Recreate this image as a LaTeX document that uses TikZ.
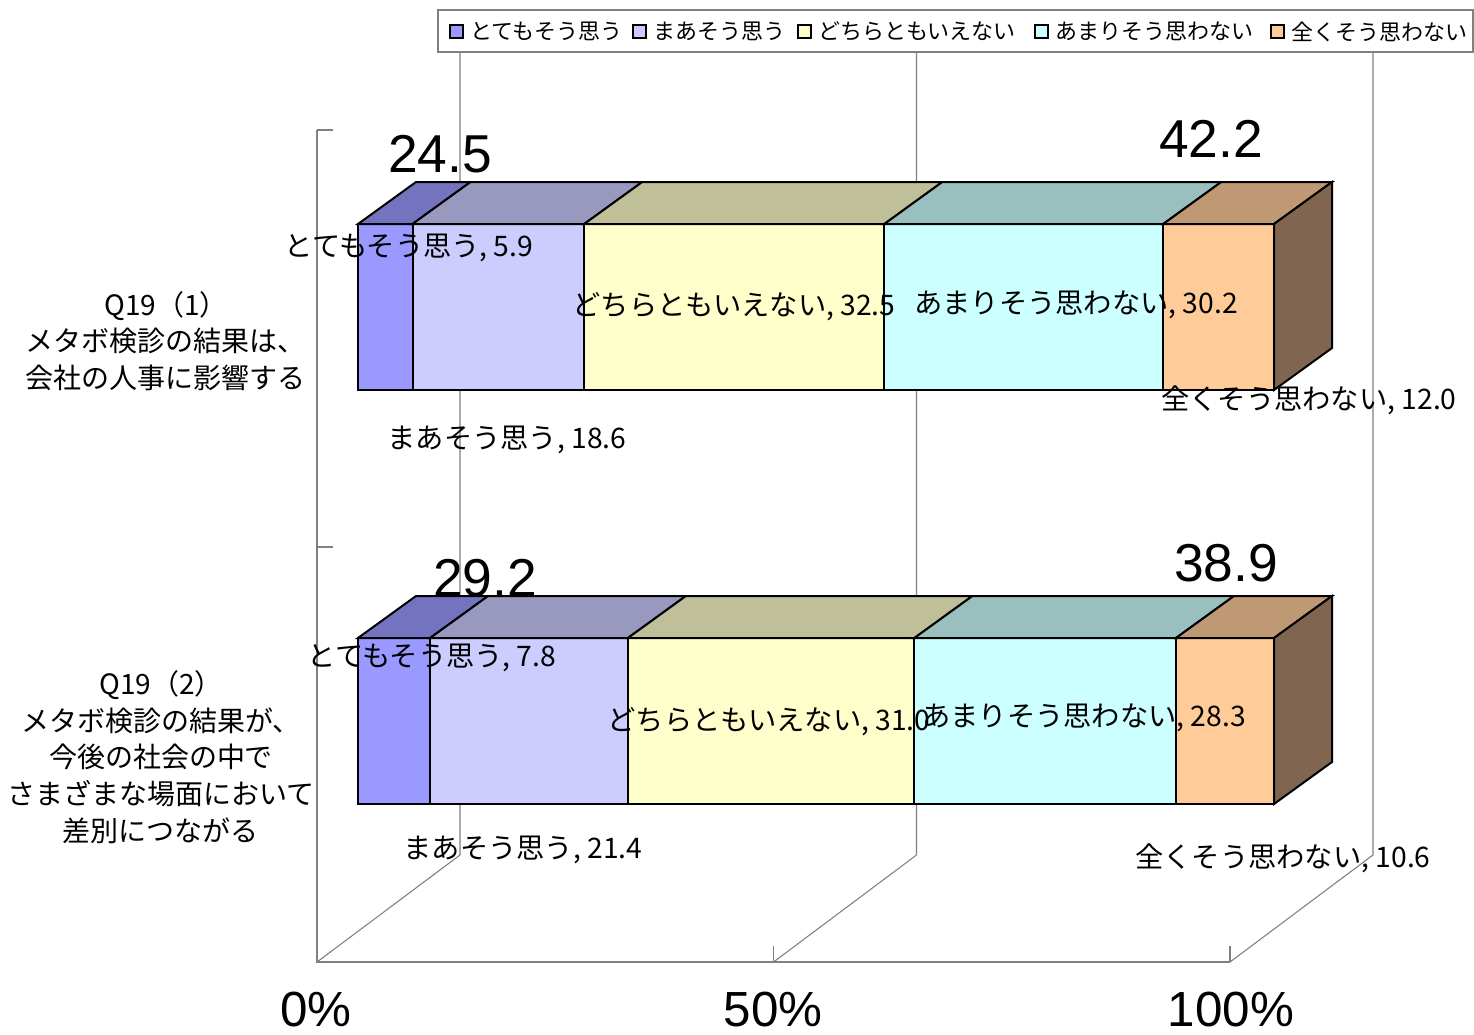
\documentclass[tikz,border=0pt]{standalone}
\usepackage{fontspec}
\setmainfont{Liberation Sans}
\newfontfamily\jp{Noto Sans CJK JP}
\definecolor{cAf}{HTML}{9999FF}\definecolor{cAt}{HTML}{7373BF}
\definecolor{cBf}{HTML}{CCCCFF}\definecolor{cBt}{HTML}{9999BF}
\definecolor{cCf}{HTML}{FFFFCC}\definecolor{cCt}{HTML}{BFBF99}
\definecolor{cDf}{HTML}{CCFFFF}\definecolor{cDt}{HTML}{99BFBF}
\definecolor{cEf}{HTML}{FFCC99}\definecolor{cEt}{HTML}{BF9973}\definecolor{cEs}{HTML}{806650}
\definecolor{gridgray}{HTML}{808080}
\begin{document}
\begin{tikzpicture}[x=0.75pt,y=-0.75pt,
  gridline/.style={draw=gridgray,line width=0.8pt},
  barface/.style={draw=black,line width=1.5pt,line join=miter},
  datalabel/.style={font=\jp\fontsize{21.2}{25}\selectfont,inner sep=0pt},
  biglabel/.style={font=\fontsize{40}{44}\selectfont,inner sep=0pt},
  axislabel/.style={font=\fontsize{37}{40}\selectfont,inner sep=0pt},
  catlabel/.style={font=\jp\fontsize{21}{27.5}\selectfont,align=center,inner sep=0pt},
  legtext/.style={font=\jp\fontsize{16.5}{20}\selectfont,inner sep=0pt,anchor=west},
  legsq/.style={draw=black,line width=0.8pt}]
\useasboundingbox (0,0) rectangle (1474,1035);
\fill[white] (0,0) rectangle (1474,1035);
% walls and floor
\draw[gridline] (460,23) -- (460,855) -- (317,962);
\draw[gridline] (916.5,23) -- (916.5,855) -- (773.5,962);
\draw[gridline] (1373,23) -- (1373,855) -- (1230,962);
\draw[gridline] (317,130) -- (317,962) -- (1230,962);
\foreach \yy in {130,547,962} \draw[gridline] (317,\yy) -- (333,\yy);
\foreach \xx in {773.5,1230} \draw[gridline] (\xx,962) -- (\xx,946);
% bars
\foreach \yt/\xa/\xb/\xc/\xd in {224/412.5/584.2/884.3/1163.2, 638/430.1/627.9/914.4/1176}{
  \foreach \p/\q/\cc in {358/\xa/A, \xa/\xb/B, \xb/\xc/C, \xc/\xd/D, \xd/1274/E}{
    \filldraw[barface,fill=c\cc f] (\p,\yt) rectangle (\q,\yt+166);
    \filldraw[barface,fill=c\cc t] (\p,\yt) -- (\p+58,\yt-42) -- (\q+58,\yt-42) -- (\q,\yt) -- cycle;
  }
  \filldraw[barface,fill=cEs] (1274,\yt) -- (1332,\yt-42) -- (1332,\yt+124) -- (1274,\yt+166) -- cycle;
}
% big labels
\node[biglabel] (s1) at (440,154) {24.5};
\node[biglabel] (s2) at (1211,139) {42.2};
\node[biglabel] (s3) at (485,578) {29.2};
\node[biglabel] (s4) at (1226,563) {38.9};
% data labels top bar
\node[datalabel] (t1) at (409,248) {とてもそう思う, 5.9};
\node[datalabel] (t2) at (507,440) {まあそう思う, 18.6};
\node[datalabel] (t3) at (734,307) {どちらともいえない, 32.5};
\node[datalabel] (t4) at (1076,305) {あまりそう思わない, 30.2};
\node[datalabel] (t5) at (1309,400) {全くそう思わない, 12.0};
% data labels bottom bar
\node[datalabel] (b1) at (432,658) {とてもそう思う, 7.8};
\node[datalabel] (b2) at (523,850) {まあそう思う, 21.4};
\node[datalabel] (b3) at (769,722) {どちらともいえない, 31.0};
\node[datalabel] (b4) at (1084,718) {あまりそう思わない, 28.3};
\node[datalabel] (b5) at (1283,858) {全くそう思わない, 10.6};
% category labels
\node[catlabel] (q1) at (166,341) {Q19（1）\\メタボ検診の結果は、\\会社の人事に影響する};
\node[catlabel] (q2) at (161,757) {Q19（2）\\メタボ検診の結果が、\\今後の社会の中で\\さまざまな場面において\\差別につながる};
% axis labels
\node[axislabel] (x0) at (316,1010) {0\%};
\node[axislabel] (x50) at (773,1010) {50\%};
\node[axislabel] (x100) at (1231,1010) {100\%};
% legend
\filldraw[fill=white,draw=gridgray,line width=0.9pt] (438,10) rectangle (1473,52);
\foreach \lx/\cc/\tx [count=\i] in {450/A/とてもそう思う, 633/B/まあそう思う, 798/C/どちらともいえない, 1035/D/あまりそう思わない, 1271/E/全くそう思わない}{
  \filldraw[legsq,fill=c\cc f] (\lx,25) rectangle (\lx+13,38);
  \node[legtext] (leg\i) at (\lx+20,31.5) {\tx};
}
\end{tikzpicture}
\end{document}
